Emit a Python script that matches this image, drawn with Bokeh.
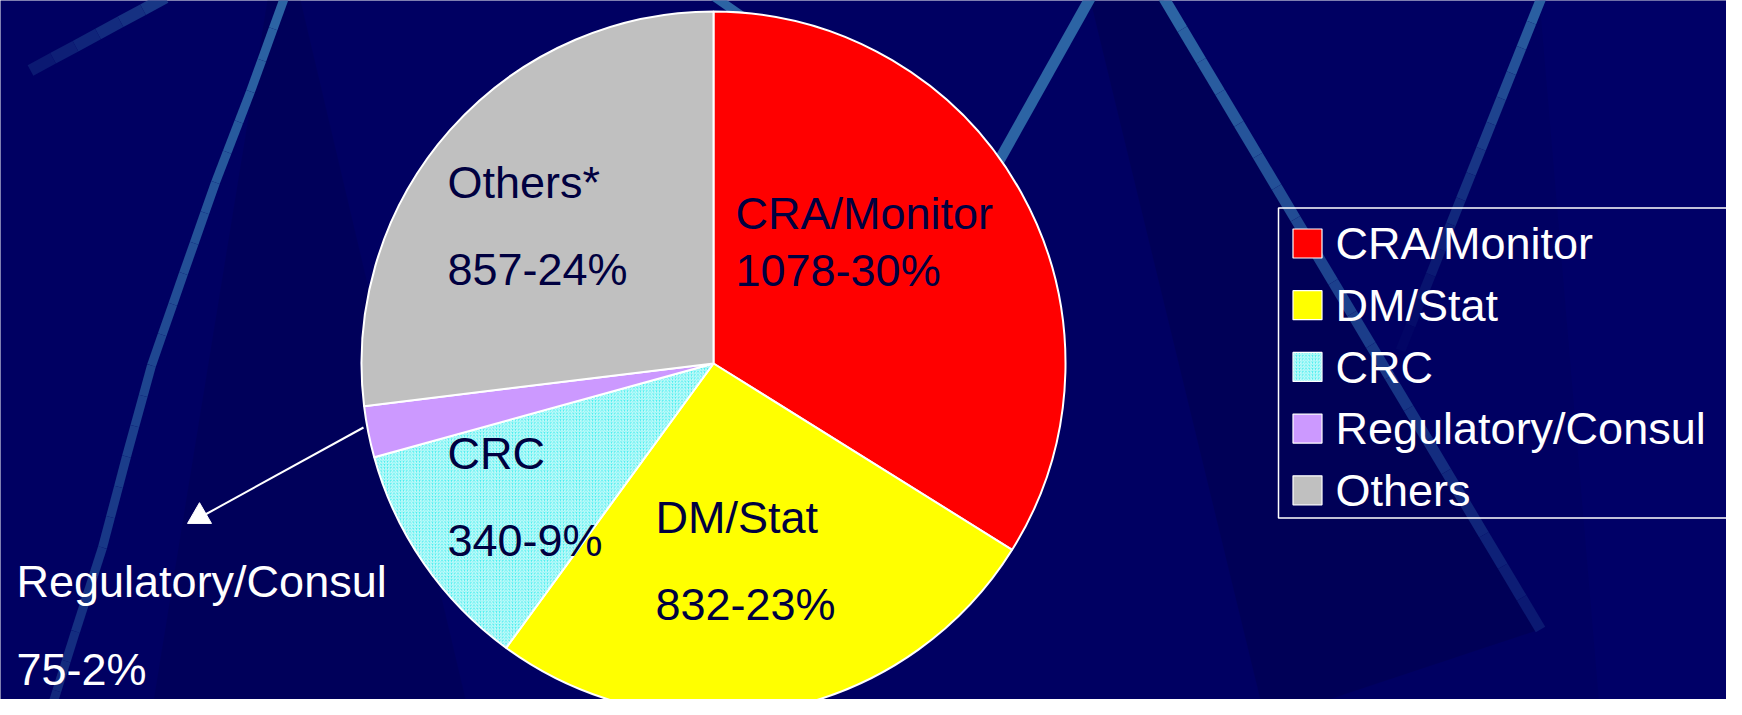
from bokeh.plotting import figure
from bokeh.models import Range1d, ColumnDataSource
from bokeh.core.properties import value
from bokeh.embed import file_html
from bokeh.resources import INLINE
import math

# ---- data ----
categories = ["CRA/Monitor", "DM/Stat", "CRC", "Regulatory/Consul", "Others"]
pie_names = ["CRA/Monitor", "DM/Stat", "CRC", "Regulatory/Consul", "Others*"]
counts = [1078, 832, 340, 75, 857]
pct_labels = [30, 23, 9, 2, 24]
colors = ["#ff0000", "#ffff00", "#40eeee", "#cc99ff", "#c0c0c0"]
hatches = [" ", " ", "/", " ", " "]

PW, PH = 1726, 699

def Y(ys):
    return PH - ys

p = figure(width=PW, height=PH, output_backend="svg", toolbar_location=None,
           x_range=Range1d(0, PW), y_range=Range1d(0, PH), min_border=0)
p.axis.visible = False
p.grid.visible = False
p.outline_line_color = None
BG = "#000062"
p.background_fill_color = BG
p.border_fill_color = BG

# ---- background decoration (subtle wedges and streaks) ----
p.patch([1090, 1163, 1539, 1265], [Y(0), Y(0), Y(629), Y(720)], color="#00004c", alpha=0.45, line_color=None)
p.patch([267, 300, 470, 150], [Y(0), Y(0), Y(720), Y(720)], color="#00004c", alpha=0.35, line_color=None)
p.patch([1539, 1742, 1742, 1600], [Y(0), Y(0), Y(720), Y(720)], color="#00006c", alpha=0.5, line_color=None)

def mix(c1, c2, t):
    a = [int(c1[i:i + 2], 16) for i in (1, 3, 5)]
    b = [int(c2[i:i + 2], 16) for i in (1, 3, 5)]
    return "#%02x%02x%02x" % tuple(int(round(a[k] + (b[k] - a[k]) * t)) for k in range(3))

streak = "#2c64a4"

def faded_line(xs, ys, width, fade_start, fade_end, steps=10):
    # split a polyline into short pieces whose colour fades toward the background
    pts = []
    for i in range(len(xs) - 1):
        for s in range(steps):
            t = s / steps
            pts.append((xs[i] + (xs[i + 1] - xs[i]) * t, ys[i] + (ys[i + 1] - ys[i]) * t))
    pts.append((xs[-1], ys[-1]))
    n = len(pts) - 1
    for k in range(n):
        f = fade_start + (fade_end - fade_start) * (k / max(1, n - 1))
        p.line([pts[k][0], pts[k + 1][0]], [Y(pts[k][1]), Y(pts[k + 1][1])],
               line_color=mix(streak, BG, f), line_width=width, line_cap="butt")

# left long streak, fading toward bottom
faded_line([284, 250, 215, 183, 151, 126, 102, 75, 47], [-3, 91, 182, 273, 365, 456, 547, 631, 720],
           9, 0.0, 0.6, steps=3)
# faint top-left streak
faded_line([165, 30], [-3, 70], 12, 0.45, 0.75, steps=6)
# streak behind pie top
p.line([712, 745], [Y(-5), Y(18)], line_color=streak, line_width=9)
# streak A (top right of pie)
p.line([1090, 940], [Y(-3), Y(265)], line_color=streak, line_width=11)
# streak B through legend, fading
faded_line([1163, 1540], [-3, 629], 11, 0.0, 0.75, steps=20)
# streak C (far right), fading
faded_line([1541, 1400], [-3, 350], 10, 0.05, 0.95, steps=14)

# ---- pie ----
total = float(sum(counts))
cum = [0.0]
for c in counts:
    cum.append(cum[-1] + c / total)
start = [math.pi / 2 - cum[i + 1] * 2 * math.pi for i in range(len(counts))]
end = [math.pi / 2 - cum[i] * 2 * math.pi for i in range(len(counts))]

src = ColumnDataSource(dict(cat=categories, count=counts, start=start, end=end,
                            color=colors, hatch=hatches))
CX, CY, R = 713, Y(363), 352
p.wedge(x=CX, y=CY, radius=R, start_angle="start", end_angle="end", source=src,
        fill_color="color", line_color="white", line_width=2,
        hatch_pattern="hatch", hatch_color="white", hatch_scale=3.2, hatch_weight=1.0,
        hatch_alpha=0.8)

# ---- pie labels ----
label_font = value("Liberation Sans")
FS = 45
SH = 0.37 * FS  # baseline correction
name_pos = [(735, 230), (655, 534), (447, 470), (16, 598), (447, 199)]
val_pos = [(735, 287), (655, 621), (447, 557), (16, 686), (447, 286)]
label_colors = ["#000040", "#000040", "#000040", "#ffffff", "#000040"]
for i in range(len(counts)):
    p.text(x=[name_pos[i][0]], y=[Y(name_pos[i][1] - SH)], text=[pie_names[i]],
           text_font=label_font, text_font_size=f"{FS}px", text_color=label_colors[i],
           text_baseline="alphabetic", text_align="left")
    p.text(x=[val_pos[i][0]], y=[Y(val_pos[i][1] - SH)], text=[f"{counts[i]}-{pct_labels[i]}%"],
           text_font=label_font, text_font_size=f"{FS}px", text_color=label_colors[i],
           text_baseline="alphabetic", text_align="left")

# leader arrow for the small slice
p.line([363, 203], [Y(427), Y(515)], line_color="white", line_width=2)
p.scatter([199], [Y(516)], marker="triangle", size=24, fill_color="white", line_color="white")

# ---- legend (manual, runs off the right edge like the original) ----
p.quad(left=[1278], right=[1790], top=[Y(207.5)], bottom=[Y(517.5)],
       fill_color=None, line_color="white", line_width=1.5)
LFS = 45
base0, step = 260, 61.7
lx = [1307] * len(categories)
ly = [Y(base0 + i * step - 17) for i in range(len(categories))]
p.rect(x=lx, y=ly, width=29, height=29, fill_color=colors, line_color="white", line_width=1.2,
       hatch_pattern=hatches, hatch_color="white", hatch_scale=3.2, hatch_weight=1.0, hatch_alpha=0.8)
p.text(x=[1335] * len(categories), y=[Y(base0 + i * step - 0.37 * LFS) for i in range(len(categories))],
       text=categories, text_font=label_font, text_font_size=f"{LFS}px", text_color="white",
       text_baseline="alphabetic", text_align="left")

open("out.html", "w").write(file_html(p, INLINE))
